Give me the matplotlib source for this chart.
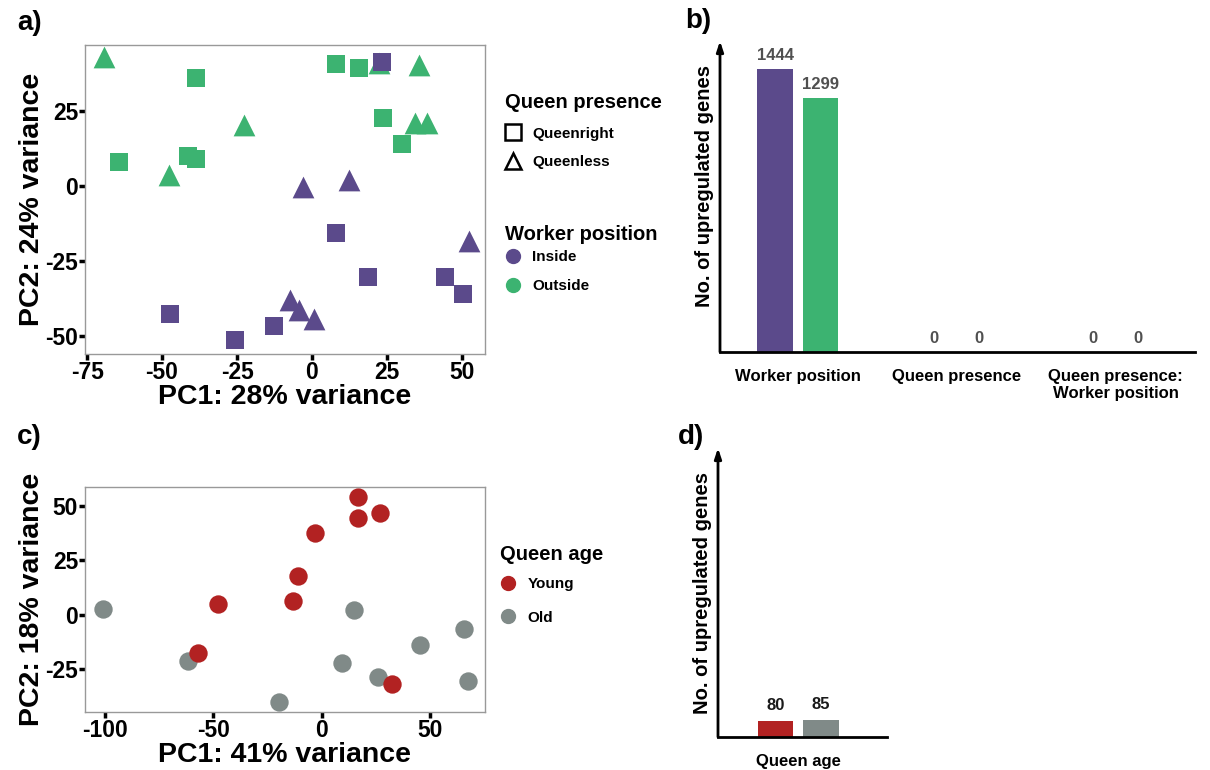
import matplotlib
matplotlib.use("Agg")
import matplotlib.pyplot as plt
from matplotlib.lines import Line2D

plt.rcParams['font.family'] = ['Liberation Sans', 'DejaVu Sans']
plt.rcParams['font.weight'] = 'bold'
plt.rcParams['axes.unicode_minus'] = False

# ---- data ----
# panel a: PCA, worker position x queen presence
a_in_qr_x = [23.2, 8.0, 18.6, 44.3, 50.4, -47.2, -12.6, -25.6]
a_in_qr_y = [41.4, -15.8, -30.2, -30.4, -36.0, -42.7, -46.6, -51.3]
a_in_ql_x = [-3.1, 12.4, 52.2, -7.4, -4.4, 0.8]
a_in_ql_y = [-0.2, 2.0, -18.2, -38.0, -41.3, -44.4]
a_out_qr_x = [-64.2, -38.7, -41.4, -38.7, 8.0, 15.8, 23.8, 30.0]
a_out_qr_y = [7.9, 35.9, 10.1, 9.0, 40.6, 39.4, 22.6, 13.9]
a_out_ql_x = [-69.4, -47.6, -22.8, 35.6, 34.4, 38.3, 22.3]
a_out_ql_y = [43.1, 3.7, 20.3, 40.3, 21.1, 21.1, 41.0]

# panel b: upregulated genes
b_categories = ['Worker position', 'Queen presence', 'Queen presence:\nWorker position']
b_first = [1444, 0, 0]
b_second = [1299, 0, 0]

# panel c: PCA, queen age
c_young_x = [16.6, 16.6, 26.9, -3.1, -11.1, -13.1, -47.7, -57.2, 32.3]
c_young_y = [54.0, 44.4, 46.7, 37.7, 17.7, 6.1, 5.0, -17.6, -31.7]
c_old_x = [-101.1, -61.6, -19.6, 9.2, 15.0, 25.8, 45.4, 65.8, 67.4]
c_old_y = [2.8, -21.3, -40.1, -22.1, 2.0, -28.7, -14.1, -6.8, -30.6]

# panel d: upregulated genes by queen age
d_categories = ['Queen age']
d_young = [80]
d_old = [85]

PURPLE = '#5b4a8b'
GREEN = '#3cb371'
RED = '#b22222'
GREY = '#808a88'

W, H = 1210, 770
fig = plt.figure(figsize=(W / 100, H / 100), dpi=100)


def px_axes(left, top, right, bottom):
    # axes from pixel box
    return fig.add_axes([left / W, 1 - bottom / H, (right - left) / W, (bottom - top) / H])


def style_pca(ax):
    for s in ax.spines.values():
        s.set_color('#999999')
        s.set_linewidth(1)
    ax.tick_params(length=4, width=2.5, color='black', labelsize=16.5, pad=1)
    for lab in ax.get_xticklabels() + ax.get_yticklabels():
        lab.set_fontweight('bold')


def add_legend(handles, labels, title, x, title_y, mid_y, spacing):
    # title as its own text so the gap to the entries can be set freely
    fig.text((x + 13) / W, 1 - title_y / H, title, fontsize=14.5, fontweight='bold',
             ha='left', va='center')
    return fig.legend(handles, labels, loc='center left',
                      bbox_to_anchor=(x / W, 1 - mid_y / H), frameon=False,
                      fontsize=11, labelspacing=spacing,
                      handlelength=1.0, handletextpad=0.75)


# ---- a) ----
ax = px_axes(85, 45, 485, 354)
ax.scatter(a_out_qr_x, a_out_qr_y, marker='s', s=150, color=GREEN, linewidths=0)
ax.scatter(a_out_ql_x, a_out_ql_y, marker='^', s=245, color=GREEN, linewidths=0)
ax.scatter(a_in_qr_x, a_in_qr_y, marker='s', s=150, color=PURPLE, linewidths=0)
ax.scatter(a_in_ql_x, a_in_ql_y, marker='^', s=245, color=PURPLE, linewidths=0)
ax.set_xlim(-75.7, 57.7)
ax.set_ylim(-56, 47)
ax.set_xticks([-75, -50, -25, 0, 25, 50])
ax.set_yticks([-50, -25, 0, 25])
style_pca(ax)
ax.set_xlabel('PC1: 28% variance', fontsize=20.5, fontweight='bold', labelpad=0)
ax.set_ylabel('PC2: 24% variance', fontsize=20.5, fontweight='bold', labelpad=0)

h_pres = [Line2D([], [], marker='s', ls='', mfc='none', mec='black', mew=1.8, ms=11),
          Line2D([], [], marker='^', ls='', mfc='none', mec='black', mew=1.8, ms=12)]
add_legend(h_pres, ['Queenright', 'Queenless'], 'Queen presence', 492, 103, 148, 0.95)
h_pos = [Line2D([], [], marker='o', ls='', color=PURPLE, ms=10),
         Line2D([], [], marker='o', ls='', color=GREEN, ms=10)]
add_legend(h_pos, ['Inside', 'Outside'], 'Worker position', 492, 234, 271.5, 1.0)


def style_bar(ax, label_y):
    for s in ['top', 'right', 'left']:
        ax.spines[s].set_visible(False)
    ax.spines['bottom'].set_linewidth(2)
    ax.set_yticks([])
    ax.tick_params(axis='x', length=0, labelsize=12, pad=12)
    for lab in ax.get_xticklabels():
        lab.set_fontweight('bold')
    ax.annotate('', xy=(0, 1), xytext=(0, 0), xycoords='axes fraction',
                arrowprops=dict(arrowstyle='-|>,head_length=0.6,head_width=0.2', lw=2,
                                color='black', shrinkA=0, shrinkB=0))
    ax.set_ylabel('No. of upregulated genes', fontsize=14.5, fontweight='bold', labelpad=4)
    ax.yaxis.set_label_coords(-6 / (ax.get_position().width * W), label_y)


# ---- b) ----
bw, off = 0.224, 0.143
ax = px_axes(720, 41, 1195, 352)
xs = range(len(b_categories))
ax.bar([i - off for i in xs], b_first, bw, color=PURPLE)
ax.bar([i + off for i in xs], b_second, bw, color=GREEN)
for i in xs:
    ax.text(i - off, b_first[i] + 30, str(b_first[i]), ha='center', va='bottom',
            fontsize=12, fontweight='bold', color='#505050')
    ax.text(i + off, b_second[i] + 30, str(b_second[i]), ha='center', va='bottom',
            fontsize=12, fontweight='bold', color='#505050')
ax.set_xlim(-0.49, 2.5)
ax.set_ylim(0, 1588)
ax.set_xticks(list(xs))
ax.set_xticklabels(b_categories)
style_bar(ax, 0.534)

# ---- c) ----
ax = px_axes(85, 487, 485, 712)
ax.scatter(c_old_x, c_old_y, marker='o', s=175, color=GREY, linewidths=0)
ax.scatter(c_young_x, c_young_y, marker='o', s=175, color=RED, linewidths=0)
ax.set_xlim(-109.2, 75.3)
ax.set_ylim(-44.7, 58.6)
ax.set_xticks([-100, -50, 0, 50])
ax.set_yticks([-25, 0, 25, 50])
style_pca(ax)
ax.set_xlabel('PC1: 41% variance', fontsize=20.5, fontweight='bold', labelpad=0)
ax.set_ylabel('PC2: 18% variance', fontsize=20.5, fontweight='bold', labelpad=0)

h_age = [Line2D([], [], marker='o', ls='', color=RED, ms=10),
         Line2D([], [], marker='o', ls='', color=GREY, ms=10)]
add_legend(h_age, ['Young', 'Old'], 'Queen age', 487, 555, 601, 1.27)

# ---- d) ----
ax = px_axes(718, 448, 887, 737)
xd = range(len(d_categories))
ax.bar([i - off for i in xd], d_young, bw, color=RED)
ax.bar([i + off for i in xd], d_old, bw, color=GREY)
for i in xd:
    ax.text(i - off, d_young[i] + 40, str(d_young[i]), ha='center', va='bottom',
            fontsize=12, fontweight='bold', color='#1a1a1a')
    ax.text(i + off, d_old[i] + 40, str(d_old[i]), ha='center', va='bottom',
            fontsize=12, fontweight='bold', color='#1a1a1a')
ax.set_xlim(-0.505, 0.56)
ax.set_ylim(0, 1473)
ax.set_xticks(list(xd))
ax.set_xticklabels(d_categories)
style_bar(ax, 0.5)

# panel letters
for lab, x, y in [('a)', 17, 23), ('b)', 685, 21), ('c)', 17, 437), ('d)', 678, 437)]:
    fig.text(x / W, 1 - y / H, lab, fontsize=20, fontweight='bold', va='center', ha='left')

fig.savefig('out.png', dpi=100)
